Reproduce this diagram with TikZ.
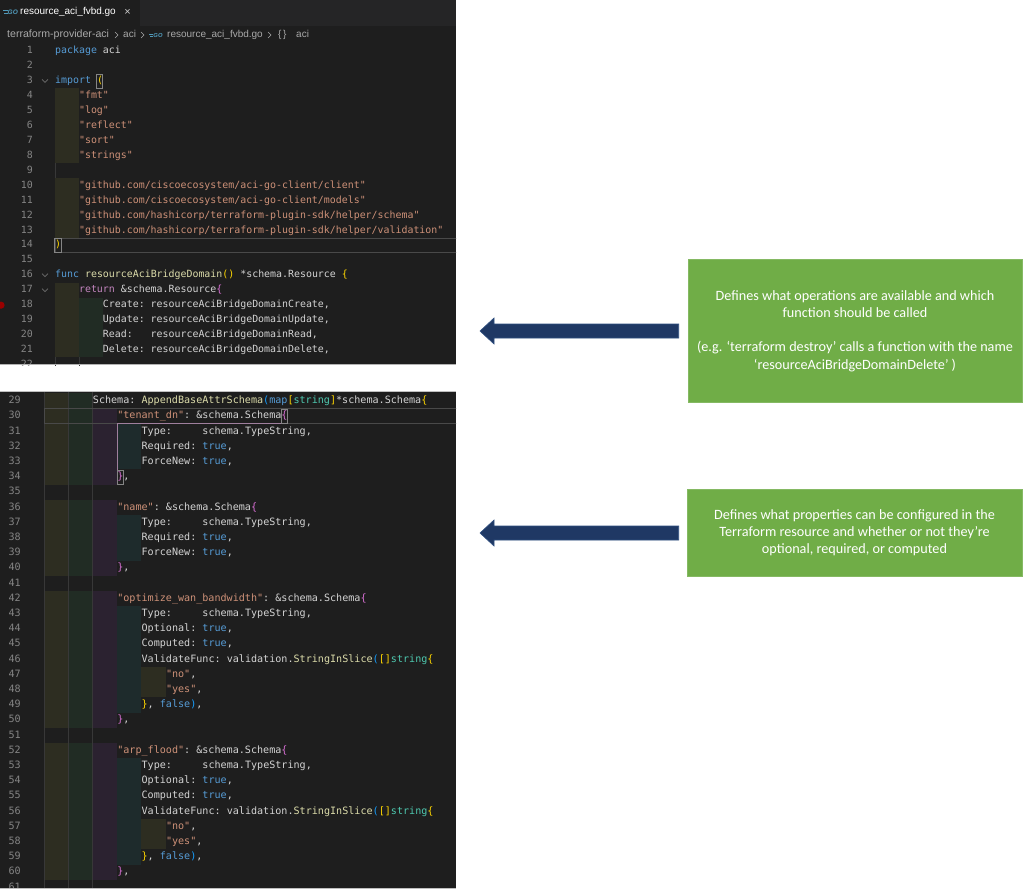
\documentclass[tikz,border=0pt]{standalone}
\usepackage{fontspec}
\setmainfont{Liberation Sans}
\setmonofont{DejaVu Sans Mono}
\newfontfamily\boxfont{Carlito}
\usetikzlibrary{calc}
\definecolor{edbg}{HTML}{1E1E1E}
\definecolor{tabbar}{HTML}{252526}
\definecolor{codefg}{HTML}{D4D4D4}
\definecolor{lnc}{HTML}{858585}
\definecolor{kwc}{HTML}{569CD6}
\definecolor{strc}{HTML}{CE9178}
\definecolor{fnc}{HTML}{DCDCAA}
\definecolor{tyc}{HTML}{4EC9B0}
\definecolor{ctlc}{HTML}{C586C0}
\definecolor{bgold}{HTML}{FFD700}
\definecolor{borch}{HTML}{DA70D6}
\definecolor{bblue}{HTML}{179FFF}
\definecolor{iolive}{HTML}{2D2D21}
\definecolor{igreen}{HTML}{212C24}
\definecolor{ipurple}{HTML}{2B2230}
\definecolor{iteal}{HTML}{1E2B2C}
\definecolor{guide}{HTML}{383838}
\definecolor{goc}{HTML}{519ABA}
\definecolor{crumb}{HTML}{A9A9A9}
\definecolor{boxgreen}{HTML}{70AD47}
\definecolor{navy}{HTML}{1F3864}
\definecolor{navyedge}{HTML}{2F4F80}
\newcommand\KW[1]{\textcolor{kwc}{#1}}
\newcommand\STR[1]{\textcolor{strc}{#1}}
\newcommand\FN[1]{\textcolor{fnc}{#1}}
\newcommand\TY[1]{\textcolor{tyc}{#1}}
\newcommand\CTL[1]{\textcolor{ctlc}{#1}}
\newcommand\BGO[1]{\textcolor{bgold}{#1}}
\newcommand\BOR[1]{\textcolor{borch}{#1}}
\newcommand\BBL[1]{\textcolor{bblue}{#1}}
% top panel helpers
\newcommand\tcl[3]{\node[codet] (tl#2) at ({55+#1*23.88},{51+(#2-1)*14.95}) {#3};}
\newcommand\tln[1]{\node[lnumt] (tn#1) at (33,{51+(#1-1)*14.95}) {#1};}
\newcommand\tblk[4]{\fill[#4] ({55+#1*23.88},{51+(#2-1)*14.95-7.475}) rectangle ({55+(#1+1)*23.88},{51+(#3-1)*14.95+7.475});}
% bottom panel helpers
\newcommand\bcl[3]{\node[codeb] (bl#2) at ({44+#1*24.36},{401+(#2-29)*15.2}) {#3};}
\newcommand\bln[1]{\node[lnumb] (bn#1) at (21,{401+(#1-29)*15.2}) {#1};}
\newcommand\bblk[4]{\fill[#4] ({44+#1*24.36},{401+(#2-29)*15.2-7.6}) rectangle ({44+(#1+1)*24.36},{401+(#3-29)*15.2+7.6});}
\begin{document}
\begin{tikzpicture}[x=1pt,y=-1pt,
  codet/.style={font=\ttfamily\fontsize{9.92}{12}\selectfont, text=codefg, inner sep=0pt, anchor=mid west},
  codeb/.style={font=\ttfamily\fontsize{10.1}{12}\selectfont, text=codefg, inner sep=0pt, anchor=mid west},
  lnumt/.style={font=\ttfamily\fontsize{9.92}{12}\selectfont, text=lnc, inner sep=0pt, anchor=mid east},
  lnumb/.style={font=\ttfamily\fontsize{10.1}{12}\selectfont, text=lnc, inner sep=0pt, anchor=mid east},
  uitext/.style={font=\fontsize{10}{12}\selectfont, inner sep=0pt, anchor=mid west},
  chev/.style={draw=crumb, line width=0.6pt},
  fold/.style={draw=lnc!120, line width=0.7pt},
  matchbox/.style={draw=lnc, line width=0.5pt},
  curline/.style={draw=white!19!edbg, line width=0.8pt},
  infobox/.style={fill=boxgreen, draw=boxgreen!85!white, line width=0.6pt, text=white, align=center, inner sep=0pt,
    font=\boxfont\fontsize{14.2}{17.2}\selectfont},
  bigarrow/.style={fill=navy, draw=navyedge, line width=0.6pt}
]
\useasboundingbox (0,0) rectangle (1024,889);
\fill[white] (0,0) rectangle (1024,889);

% ================= TOP PANEL =================
\begin{scope}
\clip (0,0) rectangle (456,365);
\fill[edbg] (0,0) rectangle (456,365);
\fill[tabbar] (140,0) rectangle (456,26);
\fill[edbg] (0,0) rectangle (140,26);
% tab
\draw[goc, line width=0.8pt] (3,10.8) -- (7.5,10.8) (4,13.6) -- (7.5,13.6);
\node[font=\bfseries\itshape\fontsize{6.5}{7}\selectfont, text=goc, inner sep=0pt] (goicon) at (12.8,12.3) {GO};
\node[uitext, text=white] (tabname) at (20,12.3) {resource\_aci\_fvbd.go};
\node[font=\fontsize{11}{12}\selectfont, text=white!80!black, inner sep=0pt] (tabclose) at (127.5,12.3) {×};
% breadcrumb
\node[uitext, text=crumb, font=\fontsize{10.6}{12}\selectfont] (bc1) at (7,35) {terraform-provider-aci};
\draw[chev] (115,32) -- (118,35) -- (115,38);
\node[uitext, text=crumb] (bc2) at (123,35) {aci};
\draw[chev] (141,32) -- (144,35) -- (141,38);
\draw[goc, line width=0.7pt] (149,34) -- (152.5,34) (150,36.2) -- (152.5,36.2);
\node[font=\bfseries\itshape\fontsize{5.8}{6}\selectfont, text=goc, inner sep=0pt] (goicon2) at (158,35.2) {GO};
\node[uitext, text=crumb] (bc3) at (167,35) {resource\_aci\_fvbd.go};
\draw[chev] (268,32) -- (271,35) -- (268,38);
\node[uitext, text=crumb] (bc4) at (278,35) {\{\,\}};
\node[uitext, text=crumb] (bc5) at (296,35) {aci};
% indent blocks
\tblk{0}{4}{8}{iolive}
\tblk{0}{10}{13}{iolive}
\tblk{0}{17}{21}{iolive}
\tblk{1}{18}{21}{igreen}
\draw[guide, line width=0.5pt] (55,{51+8*14.95-7.5}) -- (55,{51+8*14.95+7.5});
\draw[guide, line width=0.5pt] (55,{51+21*14.95-7.5}) -- (55,{51+21*14.95+8});
\draw[guide, line width=0.5pt] (79,{51+21*14.95-7.5}) -- (79,{51+21*14.95+8});
% current line (14)
\draw[curline] (55,{51+13*14.95-7.2}) rectangle (458,{51+13*14.95+7.2});
% line numbers
\foreach \i in {1,...,22} {\tln{\i}}
% fold chevrons
\foreach \n in {3,16,17} {\draw[fold] (42,{51+(\n-1)*14.95-1.6}) -- (45,{51+(\n-1)*14.95+1.4}) -- (48,{51+(\n-1)*14.95-1.6});}
% breakpoint
\fill[red!60!black] (1,{51+17*14.95}) circle (3.6);
% code
\tcl{0}{1}{\KW{package} aci}
\tcl{0}{3}{\KW{import} \BGO{(}}
\tcl{1}{4}{\STR{"fmt"}}
\tcl{1}{5}{\STR{"log"}}
\tcl{1}{6}{\STR{"reflect"}}
\tcl{1}{7}{\STR{"sort"}}
\tcl{1}{8}{\STR{"strings"}}
\tcl{1}{10}{\STR{"github.com/ciscoecosystem/aci-go-client/client"}}
\tcl{1}{11}{\STR{"github.com/ciscoecosystem/aci-go-client/models"}}
\tcl{1}{12}{\STR{"github.com/hashicorp/terraform-plugin-sdk/helper/schema"}}
\tcl{1}{13}{\STR{"github.com/hashicorp/terraform-plugin-sdk/helper/validation"}}
\tcl{0}{14}{\BGO{)}}
\tcl{0}{16}{\KW{func} \FN{resourceAciBridgeDomain}\BGO{()} *schema.Resource \BGO{\{}}
\tcl{1}{17}{\CTL{return} \&schema.Resource\BOR{\{}}
\tcl{2}{18}{Create: resourceAciBridgeDomainCreate,}
\tcl{2}{19}{Update: resourceAciBridgeDomainUpdate,}
\tcl{2}{20}{Read:~~~resourceAciBridgeDomainRead,}
\tcl{2}{21}{Delete: resourceAciBridgeDomainDelete,}
% bracket match boxes
\draw[matchbox] (96.3,{51+2*14.95-7}) rectangle (102.6,{51+2*14.95+7});
\draw[matchbox] (54.6,{51+13*14.95-7}) rectangle (60.9,{51+13*14.95+7});
\end{scope}
\draw[white!70!black, line width=0.6pt] (0,364.6) -- (456,364.6);

% ================= BOTTOM PANEL =================
\begin{scope}
\clip (0,391) rectangle (456,888);
\fill[edbg] (0,391) rectangle (456,888);
% indent blocks
\foreach \a/\b in {29/34,36/40,42/50,52/60} {\bblk{0}{\a}{\b}{iolive}\bblk{1}{\a}{\b}{igreen}}
\foreach \a/\b in {30/34,36/40,42/50,52/60} {\bblk{2}{\a}{\b}{ipurple}}
\foreach \a/\b in {31/33,37/39,43/49,53/59} {\bblk{3}{\a}{\b}{iteal}}
\foreach \a/\b in {47/48,57/58} {\bblk{4}{\a}{\b}{iolive}}
\foreach \xx in {44,68.4,92.7} {\draw[guide, line width=0.5pt] (\xx,392) -- (\xx,888);}
% current line (30)
\draw[curline] (44,{401+15.2-7.4}) rectangle (458,{401+15.2+7.4});
% bracket pair guide
\draw[lnc!70!borch, line width=0.5pt] (281.2,{401+15.2+7.4}) -- (117.1,{401+15.2+7.4}) -- (117.1,{401+5*15.2+7});
% line numbers
\foreach \i in {29,...,61} {\bln{\i}}
% code
\bcl{2}{29}{Schema: \FN{AppendBaseAttrSchema}\BBL{(}\KW{map}\BGO{[}\TY{string}\BGO{]}*schema.Schema\BGO{\{}}
\bcl{3}{30}{\STR{"tenant\_dn"}: \&schema.Schema\BOR{\{}}
\bcl{4}{31}{Type:~~~~~schema.TypeString,}
\bcl{4}{32}{Required: \KW{true},}
\bcl{4}{33}{ForceNew: \KW{true},}
\bcl{3}{34}{\BOR{\}},}
\bcl{3}{36}{\STR{"name"}: \&schema.Schema\BOR{\{}}
\bcl{4}{37}{Type:~~~~~schema.TypeString,}
\bcl{4}{38}{Required: \KW{true},}
\bcl{4}{39}{ForceNew: \KW{true},}
\bcl{3}{40}{\BOR{\}},}
\bcl{3}{42}{\STR{"optimize\_wan\_bandwidth"}: \&schema.Schema\BOR{\{}}
\bcl{4}{43}{Type:~~~~~schema.TypeString,}
\bcl{4}{44}{Optional: \KW{true},}
\bcl{4}{45}{Computed: \KW{true},}
\bcl{4}{46}{ValidateFunc: validation.\FN{StringInSlice}\BBL{(}\BGO{[]}\TY{string}\BGO{\{}}
\bcl{5}{47}{\STR{"no"},}
\bcl{5}{48}{\STR{"yes"},}
\bcl{4}{49}{\BGO{\}}, \KW{false}\BBL{)},}
\bcl{3}{50}{\BOR{\}},}
\bcl{3}{52}{\STR{"arp\_flood"}: \&schema.Schema\BOR{\{}}
\bcl{4}{53}{Type:~~~~~schema.TypeString,}
\bcl{4}{54}{Optional: \KW{true},}
\bcl{4}{55}{Computed: \KW{true},}
\bcl{4}{56}{ValidateFunc: validation.\FN{StringInSlice}\BBL{(}\BGO{[]}\TY{string}\BGO{\{}}
\bcl{5}{57}{\STR{"no"},}
\bcl{5}{58}{\STR{"yes"},}
\bcl{4}{59}{\BGO{\}}, \KW{false}\BBL{)},}
\bcl{3}{60}{\BOR{\}},}
% bracket match boxes
\draw[matchbox] (281.0,{401+15.2-7}) rectangle (287.4,{401+15.2+7});
\draw[matchbox] (116.8,{401+5*15.2-7}) rectangle (123.2,{401+5*15.2+7});
\end{scope}
\draw[white!75!black, line width=0.6pt] (0,391) -- (456,391);
\draw[white!75!black, line width=0.6pt] (0,888) -- (456,888);

% ================= INFO BOXES =================
\node[infobox, minimum width=334pt, minimum height=143pt] (box1) at (855,331)
  {Defines what operations are available and which\\ function should be called\\[17.2pt]
   (e.g. ‘terraform destroy’ calls a function with the name\\ ‘resourceAciBridgeDomainDelete’ )};
\node[infobox, minimum width=335pt, minimum height=87pt] (box2) at (854.5,533)
  {Defines what properties can be configured in the\\ Terraform resource and whether or not they’re\\ optional, required, or computed};

% ================= ARROWS =================
\coordinate (a1tip) at (480,331);
\coordinate (a2tip) at (480,533);
\draw[bigarrow] (a1tip) -- ++(14,-13) -- ++(0,6) -- ($(box1.west|-a1tip)+(-9,-7)$) -- ($(box1.west|-a1tip)+(-9,7)$) -- ($(a1tip)+(14,7)$) -- ++(0,6) -- cycle;
\draw[bigarrow] (a2tip) -- ++(14,-13) -- ++(0,6) -- ($(box2.west|-a2tip)+(-8,-7)$) -- ($(box2.west|-a2tip)+(-8,7)$) -- ($(a2tip)+(14,7)$) -- ++(0,6) -- cycle;
\end{tikzpicture}
\end{document}
